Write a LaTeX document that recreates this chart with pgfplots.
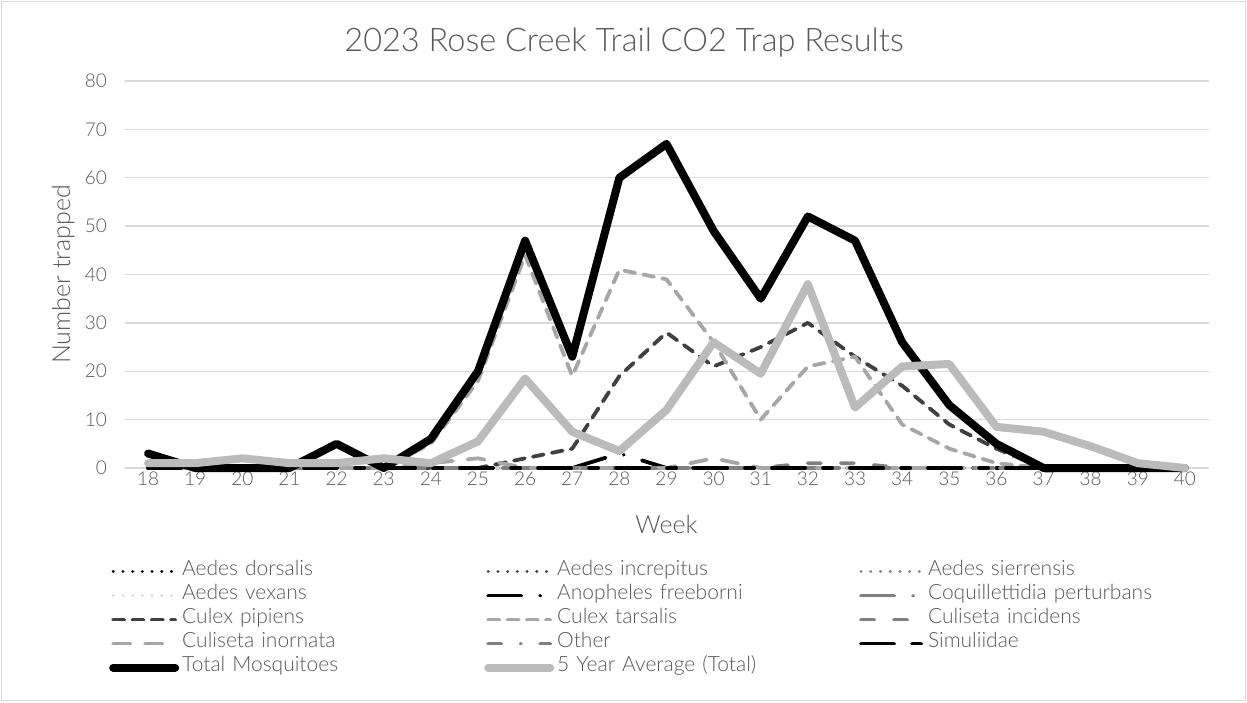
\documentclass[border=0pt]{standalone}
\usepackage{fontspec}
\setmainfont{Lato Light}
\usepackage{pgfplots}
\pgfplotsset{compat=1.18}
\usepackage{pgfplotstable}
\definecolor{txt}{HTML}{595959}
\definecolor{gridc}{HTML}{D9D9D9}
\definecolor{dk}{HTML}{404040}
\definecolor{md}{HTML}{808080}
\definecolor{lt}{HTML}{A6A6A6}
\definecolor{avgc}{HTML}{BBBBBB}
\definecolor{vlt}{HTML}{D9D9D9}
\pgfplotstableread{
week dors incr sierr vex anoph coq pip tars cinc cino oth sim total avg
18 0 0 0 0 0 0 0 0 0 0 0 0 3 1
19 0 0 0 0 0 0 0 0 0 0 0 0 0 1
20 0 0 0 0 0 0 0 0 0 0 0 0 0 2
21 0 0 0 0 0 0 0 0 0 0 0 0 0 1
22 0 0 0 0 0 0 0 0 0 0 0 0 5 1
23 0 0 0 0 0 0 0 0 0 0 0 0 0 2
24 0 0 0 0 0 0 0 5 0 1 0 0 6 1
25 0 0 0 0 0 0 0 18 0 2 0 0 20 5.5
26 0 0 0 0 0 0 2 44 0 0 0 0 47 18.5
27 0 0 0 0 0 0 4 19 0 0 0 0 23 7.5
28 0 0 0 0 3 0 19 41 0 0 0 0 60 3.5
29 0 0 0 0 0 0 28 39 0 0 0 0 67 12
30 0 0 0 0 0 0 21 26 0 2 0 0 49 26
31 0 0 0 0 0 0 25 10 0 0 0 0 35 19.5
32 0 0 0 0 0 0 30 21 1 0 0 0 52 38
33 0 0 0 0 0 0 23 23 1 0 0 0 47 12.5
34 0 0 0 0 0 0 17 9 0 0 0 0 26 21
35 0 0 0 0 0 0 9 4 0 0 0 0 13 21.5
36 0 0 0 0 0 0 4 1 0 0 0 0 5 8.5
37 0 0 0 0 0 0 0 0 0 0 0 0 0 7.5
38 0 0 0 0 0 0 0 0 0 0 0 0 0 4.5
39 0 0 0 0 0 0 0 0 0 0 0 0 0 1
40 0 0 0 0 0 0 0 0 0 0 0 0 0 0
}\data
\begin{document}
\begin{tikzpicture}[x=1pt,y=1pt]
\useasboundingbox (0,0) rectangle (1247,702);
\draw[color=gridc, line width=1pt] (1.5,1.5) rectangle (1245.5,700.5);
\node[text=txt, font=\fontsize{32.5}{38}\selectfont] at (624,659) {2023 Rose Creek Trail CO2 Trap Results};
\begin{axis}[
 at={(124.5pt,234pt)}, anchor=south west, scale only axis,
 width=1084pt, height=387pt,
 xmin=17.5, xmax=40.5, ymin=0, ymax=80,
 xtick={18,...,40}, ytick={0,10,...,80},
 axis line style={draw=none}, major tick length=0pt,
 ymajorgrids, major grid style={color=gridc, line width=1.3pt},
 tick label style={text=txt, font=\fontsize{19}{22}\selectfont},
 yticklabel style={xshift=-14pt},
 /pgf/number format/assume math mode=true,
 clip=false,
 xlabel={Week}, ylabel={Number trapped},
 every axis x label/.style={at={(axis description cs:0.5,-0.147)},anchor=center,text=txt, font=\fontsize{25}{30}\selectfont},
 every axis y label/.style={at={(axis description cs:-0.0565,0.5)},rotate=90,anchor=center,text=txt, font=\fontsize{25}{30}\selectfont},
 legend columns=3,
 legend cell align=left,
 legend style={at={(axis description cs:-0.0143,-0.236)}, anchor=north west, draw=none, fill=none, inner sep=0pt, row sep=0pt, column sep=0pt,
   nodes={text=txt, font=\fontsize{21}{24}\selectfont, text width=299pt, align=left, inner sep=3pt, text height=13pt, text depth=5pt}},
 legend image code/.code={\draw[#1] (0pt,0pt) -- (62pt,0pt);},
 every axis plot/.append style={line join=round},
]
\addplot[black, line width=3.3pt, line cap=round, dash pattern=on 0.01pt off 9.7pt] table[x=week,y=dors]{\data};
\addlegendentry{Aedes dorsalis}
\addplot[dk, line width=3.3pt, line cap=round, dash pattern=on 0.01pt off 9.7pt] table[x=week,y=incr]{\data};
\addlegendentry{Aedes increpitus}
\addplot[md, line width=3.3pt, line cap=round, dash pattern=on 0.01pt off 9.7pt] table[x=week,y=sierr]{\data};
\addlegendentry{Aedes sierrensis}
\addplot[vlt, line width=3.3pt, line cap=round, dash pattern=on 0.01pt off 9.7pt] table[x=week,y=vex]{\data};
\addlegendentry{Aedes vexans}
\addplot[black, line width=3.8pt, line cap=round, dash pattern=on 33pt off 19pt on 0.01pt off 19pt] table[x=week,y=anoph]{\data};
\addlegendentry{Anopheles freeborni}
\addplot[md, line width=3.8pt, line cap=round, dash pattern=on 33pt off 19pt on 0.01pt off 19pt] table[x=week,y=coq]{\data};
\addlegendentry{Coquillettidia perturbans}
\addplot[dk, line width=3.8pt, line cap=round, dash pattern=on 11pt off 8.3pt] table[x=week,y=pip]{\data};
\addlegendentry{Culex pipiens}
\addplot[lt, line width=3.8pt, line cap=round, dash pattern=on 11pt off 8.3pt] table[x=week,y=tars]{\data};
\addlegendentry{Culex tarsalis}
\addplot[md, line width=3.8pt, line cap=round, dash pattern=on 13pt off 20pt] table[x=week,y=cinc]{\data};
\addlegendentry{Culiseta incidens}
\addplot[lt, line width=3.8pt, line cap=round, dash pattern=on 17pt off 15pt] table[x=week,y=cino]{\data};
\addlegendentry{Culiseta inornata}
\addplot[md, line width=3.8pt, line cap=round, dash pattern=on 13pt off 19.5pt on 0.01pt off 19.5pt] table[x=week,y=oth]{\data};
\addlegendentry{Other}
\addplot[black, line width=3.8pt, line cap=round, dash pattern=on 33pt off 18pt on 9pt off 18pt] table[x=week,y=sim]{\data};
\addlegendentry{Simuliidae}
\addplot[black, line width=8pt, line cap=round] table[x=week,y=total]{\data};
\addlegendentry{Total Mosquitoes}
\addplot[avgc, line width=8pt, line cap=round] table[x=week,y=avg]{\data};
\addlegendentry{5 Year Average (Total)}
\end{axis}
\end{tikzpicture}
\end{document}
